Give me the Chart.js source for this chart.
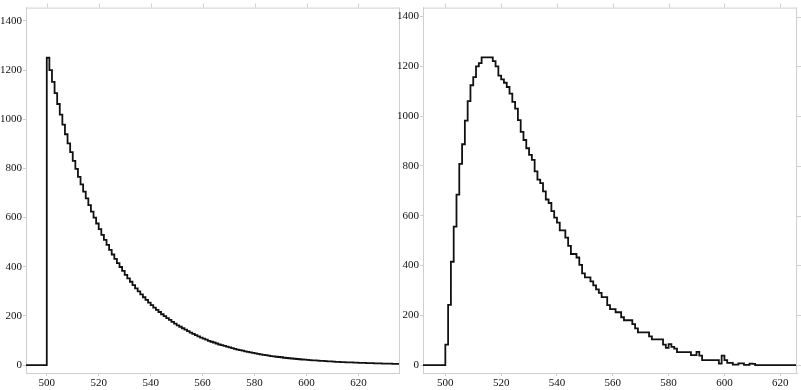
<!DOCTYPE html>
<html>
<head>
<meta charset="utf-8">
<script src="https://cdn.jsdelivr.net/npm/chart.js@4.4.1/dist/chart.umd.min.js"></script>
<style>
	html, body { margin: 0; padding: 0; background: #fff; }
	#wrap { position: relative; width: 801px; height: 390px; }
	#leftChart { position: absolute; left: 0; top: 0; }
	#rightChart { position: absolute; left: 392px; top: 0; }
</style>
</head>
<body>
<div id="wrap">
	<canvas id="leftChart" width="400" height="390"></canvas>
	<canvas id="rightChart" width="409" height="390"></canvas>
</div>
<script>
// histogram bins are 1 wide, first bin starts at 492
const binStart = 492;
const xTicks = [500, 520, 540, 560, 580, 600, 620];
const yTicks = [0, 200, 400, 600, 800, 1000, 1200, 1400];

// left panel: sharp rise at 500 then decay
const decayCounts = [
	0, 0, 0, 0, 0, 0, 0, 0,
	1250, 1200, 1152, 1106, 1062, 1019, 978, 939, 902, 866,
	831, 798, 766, 735, 706, 678, 651, 624, 600, 576,
	553, 530, 509, 489, 469, 450, 432, 415, 399, 383,
	367, 353, 339, 325, 312, 300, 288, 276, 265, 254,
	244, 234, 225, 216, 207, 199, 191, 184, 176, 169,
	162, 156, 150, 144, 138, 132, 127, 122, 117, 112,
	108, 104, 99, 95, 92, 88, 84, 81, 78, 75,
	72, 69, 66, 63, 61, 59, 56, 54, 52, 50,
	48, 46, 44, 42, 41, 39, 37, 36, 34, 33,
	32, 30, 29, 28, 27, 26, 25, 24, 23, 22,
	21, 20, 19, 19, 18, 17, 17, 16, 15, 15,
	14, 13, 13, 12, 12, 11, 11, 11, 10, 10,
	9, 9, 9, 8, 8, 8, 7, 7, 7, 6,
	6, 6, 6, 5, 5, 5,
];

// right panel: rounded peak near 515 with a long tail
const peakCounts = [
	0, 0, 0, 0, 0, 0, 0, 0,
	82, 242, 415, 556, 685, 808, 887, 982, 1060, 1124,
	1157, 1200, 1213, 1236, 1236, 1236, 1236, 1221, 1200, 1163,
	1148, 1134, 1117, 1090, 1057, 1030, 984, 937, 904, 871,
	844, 824, 778, 745, 731, 698, 665, 651, 618, 592,
	572, 541, 541, 512, 479, 446, 446, 432, 402, 368,
	352, 352, 336, 320, 304, 290, 273, 273, 241, 225,
	225, 212, 212, 192, 180, 180, 180, 164, 147, 131,
	131, 131, 131, 115, 103, 103, 103, 103, 82, 69,
	84, 73, 66, 52, 52, 52, 52, 52, 40, 40,
	53, 38, 20, 20, 20, 20, 20, 20, 6, 38,
	20, 9, 9, 2, 2, 7, 7, 1, 1, 6,
	5, 0, 0, 0, 0, 0, 0, 0, 0, 0,
	0, 0, 0, 0, 0, 0,
];

Chart.defaults.font.family = '"Liberation Serif", "DejaVu Serif", serif';
Chart.defaults.font.size = 11;
Chart.defaults.color = '#111';

const frameColor = '#cfcfcf';

function toSteps(counts) {
	const pts = counts.map((c, i) => ({ x: binStart + i, y: c }));
	pts.push({ x: binStart + counts.length, y: counts[counts.length - 1] });
	return pts;
}

// box round the plot with mirrored tick marks on top and right
const framePlugin = {
	id: 'frame',
	afterDraw(chart) {
		const { ctx, chartArea: a, scales } = chart;
		ctx.save();
		ctx.strokeStyle = frameColor;
		ctx.lineWidth = 1;
		ctx.beginPath();
		ctx.moveTo(a.left, a.top + 0.5);
		ctx.lineTo(a.right, a.top + 0.5);
		ctx.moveTo(a.right - 0.5, a.top);
		ctx.lineTo(a.right - 0.5, a.bottom);
		xTicks.forEach((v) => {
			const px = Math.round(scales.x.getPixelForValue(v)) + 0.5;
			ctx.moveTo(px, a.top);
			ctx.lineTo(px, a.top - 4);
		});
		yTicks.forEach((v) => {
			const py = Math.round(scales.y.getPixelForValue(v)) + 0.5;
			ctx.moveTo(a.right, py);
			ctx.lineTo(a.right + 4, py);
		});
		ctx.stroke();
		ctx.restore();
	},
};

function makeChart(id, counts, yMax, yWidth, padRight) {
	return new Chart(document.getElementById(id), {
		type: 'line',
		data: {
			datasets: [
				{
					data: toSteps(counts),
					stepped: 'before',
					borderColor: '#111',
					borderWidth: 1.8,
					pointRadius: 0,
					fill: false,
				},
			],
		},
		options: {
			responsive: false,
			animation: false,
			layout: { padding: { top: 5, right: padRight, left: 0, bottom: 0 } },
			plugins: { legend: { display: false }, tooltip: { enabled: false } },
			scales: {
				x: {
					type: 'linear',
					min: binStart,
					max: binStart + counts.length,
					afterBuildTicks: (scale) => {
						scale.ticks = xTicks.map((v) => ({ value: v }));
					},
					afterFit: (scale) => {
						scale.height = 17;
					},
					ticks: { maxRotation: 0, padding: 1, autoSkip: false, callback: (v) => String(v) },
					grid: { drawOnChartArea: false, tickLength: 3, color: frameColor },
					border: { color: frameColor },
				},
				y: {
					type: 'linear',
					min: -32,
					max: yMax,
					afterBuildTicks: (scale) => {
						scale.ticks = yTicks.map((v) => ({ value: v }));
					},
					afterFit: (scale) => {
						scale.width = yWidth;
					},
					ticks: { padding: 1, callback: (v) => String(v) },
					grid: { drawOnChartArea: false, tickLength: 3, color: frameColor },
					border: { color: frameColor },
				},
			},
		},
		plugins: [framePlugin],
	});
}

makeChart('leftChart', decayCounts, 1454, 26, 0);
makeChart('rightChart', peakCounts, 1436, 31, 4);
</script>
</body>
</html>
